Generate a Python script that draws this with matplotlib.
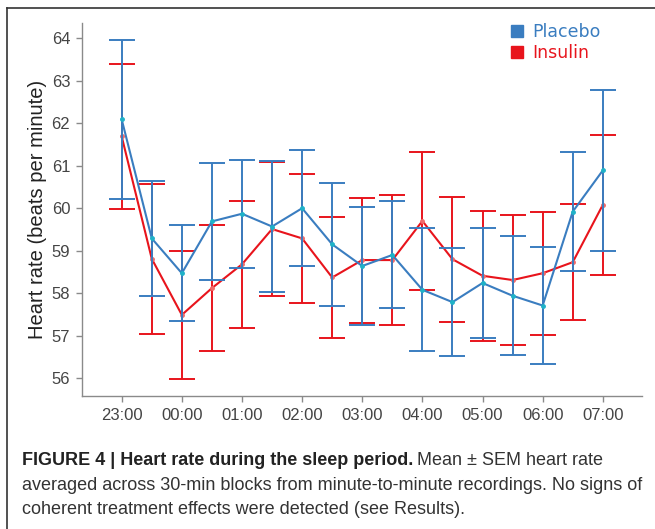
import numpy as np
import matplotlib.pyplot as plt
from matplotlib.lines import Line2D


# Data, 30-min blocks from 23:00 to 07:00
blocks = np.arange(17)
hourLabels = ["23:00", "00:00", "01:00", "02:00", "03:00", "04:00", "05:00", "06:00", "07:00"]

placeboMean = [62.09, 59.29, 58.47, 59.69, 59.87, 59.57, 60.00, 59.15, 58.64,
               58.90, 58.08, 57.79, 58.24, 57.94, 57.71, 59.92, 60.89]
placeboSem = [1.87, 1.35, 1.13, 1.37, 1.27, 1.55, 1.37, 1.44, 1.39,
              1.26, 1.45, 1.27, 1.30, 1.40, 1.37, 1.40, 1.90]

insulinMean = [61.69, 58.81, 57.49, 58.12, 58.68, 59.51, 59.29, 58.37, 58.78,
               58.78, 59.70, 58.80, 58.41, 58.31, 58.47, 58.73, 60.08]
insulinSem = [1.71, 1.76, 1.51, 1.48, 1.50, 1.57, 1.52, 1.42, 1.47,
              1.53, 1.62, 1.47, 1.53, 1.53, 1.45, 1.36, 1.64]


# Colours
blue = "#3a7dc0"
red = "#e8141c"
axisGrey = "#8a8a8a"
textGrey = "#444444"


# Figure and axes
fig = plt.figure(figsize=(6.55, 5.29), dpi=100)
ax = fig.add_axes([0.1252, 0.2514, 0.8548, 0.7051])

ax.errorbar(blocks, insulinMean, yerr=insulinSem, color=red, lw=1.5,
            elinewidth=1.4, capsize=9.4, capthick=1.4,
            marker='o', markersize=2.5, markerfacecolor="#f06a6a",
            markeredgecolor="#f06a6a", zorder=2)
ax.errorbar(blocks, placeboMean, yerr=placeboSem, color=blue, lw=1.5,
            elinewidth=1.4, capsize=9.4, capthick=1.4,
            marker='o', markersize=2.5, markerfacecolor="#1fb2c8",
            markeredgecolor="#1fb2c8", zorder=3)


# Axes styling
ax.set_xlim(-1.32, 17.3)
ax.set_ylim(55.58, 64.36)
ax.set_xticks(blocks[::2])
ax.set_xticklabels(hourLabels)
ax.set_yticks(range(56, 65))
for side in ["top", "right"]:
    ax.spines[side].set_visible(False)
for side in ["left", "bottom"]:
    ax.spines[side].set_color(axisGrey)
    ax.spines[side].set_linewidth(1.0)
ax.tick_params(colors=axisGrey, length=4.5, width=1.0, pad=4,
               labelcolor=textGrey, labelsize=12)
for lab in ax.get_xticklabels() + ax.get_yticklabels():
    lab.set_family("Liberation Sans")

ax.set_ylabel("Heart rate (beats per minute)", fontsize=14.5,
              family="Liberation Sans", color="#222222", labelpad=3)


# Legend
handles = [Line2D([], [], ls='none', marker='s', markersize=9, color=blue),
           Line2D([], [], ls='none', marker='s', markersize=9, color=red)]
leg = ax.legend(handles, ["Placebo", "Insulin"], loc="upper left",
                frameon=False, fontsize=12.5, handletextpad=0.4,
                labelspacing=0.2, handlelength=1.0, borderaxespad=0)
for txt, col in zip(leg.get_texts(), [blue, red]):
    txt.set_color(col)
leg.set_bbox_to_anchor((0.765, 0.970), transform=fig.transFigure)


# Frame around the figure panel
fig.add_artist(Line2D([7/655, 1.0], [1 - 8/529, 1 - 8/529], color="#333333", lw=1.2))
fig.add_artist(Line2D([7/655, 7/655], [0.0, 1 - 8/529], color="#333333", lw=1.2))


# Caption
captionSize = 13
x0 = 22/655
fig.canvas.draw()
boldPart = fig.text(x0, 1 - 465/529, "FIGURE 4 | Heart rate during the sleep period.",
                    fontsize=captionSize, fontweight="bold", family="Liberation Sans",
                    color="#222222", va="baseline")
bb = boldPart.get_window_extent(renderer=fig.canvas.get_renderer())
fig.text(bb.x1 / fig.bbox.width + 0.006, 1 - 465/529, "Mean \u00b1 SEM heart rate",
         fontsize=captionSize, family="Liberation Sans", color="#333333", va="baseline")
fig.text(x0, 1 - 490/529,
         "averaged across 30-min blocks from minute-to-minute recordings. No signs of",
         fontsize=captionSize, family="Liberation Sans", color="#333333", va="baseline")
fig.text(x0, 1 - 514/529,
         "coherent treatment effects were detected (see Results).",
         fontsize=captionSize, family="Liberation Sans", color="#333333", va="baseline")


fig.savefig("out.png", dpi=100)
